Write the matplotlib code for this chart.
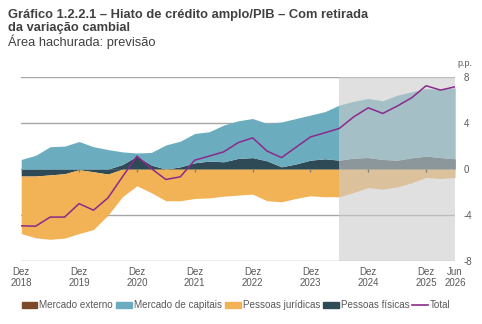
import numpy as np
import matplotlib.pyplot as plt
from matplotlib.patches import Patch
from matplotlib.lines import Line2D

plt.rcParams['font.family'] = ['Liberation Sans', 'DejaVu Sans']

# quarterly, Dez 2018 .. Jun 2026
quarters = np.arange(31)
externo = [0.0, 0.0, 0.0, 0.0, 0.0, 0.0, 0.0, 0.0, 0.0, 0.0, 0.0, 0.0, 0.0, 0.0, 0.0, 0.0,
           0.0, 0.0, 0.0, 0.0, 0.0, 0.0, 0.0, 0.0, 0.0, 0.0, 0.0, 0.0, 0.0, 0.0, 0.0]
fisicas = [-0.6, -0.6, -0.5, -0.4, -0.05, -0.23, -0.43, 0.4, 1.13, 0.35, 0.0, 0.2, 0.55, 0.7, 0.64, 0.93,
           1.0, 0.72, 0.2, 0.45, 0.78, 0.9, 0.78, 0.96, 1.01, 0.84, 0.78, 0.99, 1.13, 1.01, 0.9]
capitais = [0.84, 1.2, 1.95, 2.0, 2.4, 1.95, 1.7, 1.1, 0.27, 1.1, 2.1, 2.23, 2.55, 2.55, 3.19, 3.27,
            3.4, 3.25, 3.9, 3.95, 3.92, 4.1, 4.79, 4.94, 5.13, 5.1, 5.65, 5.73, 5.87, 5.92, 6.17]
juridicas = [-5.0, -5.37, -5.6, -5.6, -5.55, -5.02, -3.57, -2.4, -1.45, -2.05, -2.75, -2.75, -2.55, -2.5, -2.35, -2.26,
             -2.17, -2.75, -2.84, -2.55, -2.32, -2.4, -2.4, -2.03, -1.6, -1.74, -1.54, -1.19, -0.72, -0.81, -0.72]
total = [-4.93, -4.96, -4.17, -4.17, -3.0, -3.57, -2.5, -0.67, 1.13, 0.05, -0.9, -0.67, 0.78, 1.13, 1.5, 2.3,
         2.72, 1.57, 1.0, 1.9, 2.8, 3.16, 3.54, 4.55, 5.33, 4.84, 5.48, 6.2, 7.25, 6.87, 7.16]

tick_pos = [0, 4, 8, 12, 16, 20, 24, 28, 30]
tick_labels = ['Dez\n2018', 'Dez\n2019', 'Dez\n2020', 'Dez\n2021', 'Dez\n2022',
               'Dez\n2023', 'Dez\n2024', 'Dez\n2025', 'Jun\n2026']
forecast_start = 22

names = ['Mercado externo', 'Mercado de capitais', 'Pessoas jurídicas', 'Pessoas físicas']
colors = {'Mercado externo': '#7b4a2b', 'Mercado de capitais': '#6badbf',
          'Pessoas jurídicas': '#f2b256', 'Pessoas físicas': '#2e4a56'}

fig = plt.figure(figsize=(4.82, 3.24), dpi=100)
ax = fig.add_axes([0.044, 0.194, 0.900, 0.568])

# stacked areas, positives up and negatives down from zero
pos = np.zeros(31)
neg = np.zeros(31)
for name, vals in [('Mercado externo', externo), ('Pessoas físicas', fisicas),
                   ('Mercado de capitais', capitais), ('Pessoas jurídicas', juridicas)]:
    v = np.array(vals)
    p = np.clip(v, 0, None)
    n = np.clip(v, None, 0)
    ax.fill_between(quarters, pos, pos + p, color=colors[name], lw=0, zorder=2)
    ax.fill_between(quarters, neg, neg + n, color=colors[name], lw=0, zorder=2)
    pos = pos + p
    neg = neg + n

ax.axvspan(forecast_start, 30, color='#cccccc', alpha=0.6, lw=0, zorder=3)
ax.plot(quarters, total, color='#8b2a8c', lw=1.1, zorder=4)
ax.vlines(tick_pos[1:-1], -0.25, 0, color='#808080', lw=1, zorder=4)

ax.set_xlim(0, 30)
ax.set_ylim(-8, 8)
ax.set_yticks([-8, -4, 0, 4, 8])
ax.set_yticklabels(['-8', '-4', '0', '4', '8'])
ax.yaxis.tick_right()
ax.grid(axis='y', color='#a6a6a6', lw=1)
ax.set_axisbelow(True)
ax.set_xticks(tick_pos)
ax.set_xticklabels(tick_labels)
ax.tick_params(axis='both', length=0, labelsize=7, colors='#595959')
ax.tick_params(axis='y', pad=6)
ax.tick_params(axis='x', pad=4)
for s in ax.spines.values():
    s.set_visible(False)
ax.text(1.005, 1.06, 'p.p.', transform=ax.transAxes, fontsize=6.5, color='#595959')

fig.text(0.017, 0.973, 'Gráfico 1.2.2.1 – Hiato de crédito amplo/PIB – Com retirada\nda variação cambial',
         fontsize=9.3, fontweight='bold', color='#404040', va='top', linespacing=1.17)
fig.text(0.017, 0.895, 'Área hachurada: previsão', fontsize=9.3, color='#404040', va='top')

handles = [Patch(color=colors[n]) for n in names] + [Line2D([], [], color='#8b2a8c', lw=1.2)]
fig.legend(handles, names + ['Total'], loc='center', bbox_to_anchor=(0.49, 0.058), ncol=5,
           frameon=False, fontsize=7.1, handlelength=1.6, handleheight=0.5,
           handletextpad=0.2, columnspacing=0.3, labelcolor='#595959')

fig.savefig('out.png', dpi=100)
